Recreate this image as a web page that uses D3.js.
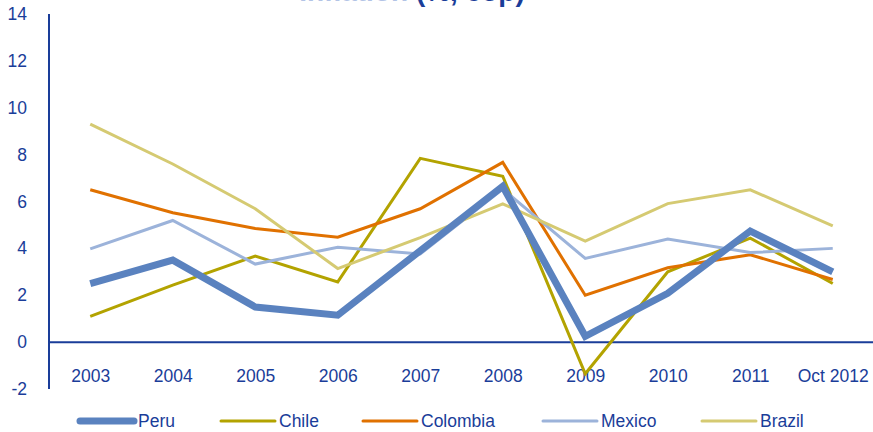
<!DOCTYPE html>
<html><head><meta charset="utf-8">
<script src="https://cdn.jsdelivr.net/npm/d3@7"></script>
<style>html,body{margin:0;padding:0;background:#fff;}svg{display:block;font-family:"Liberation Sans",Arial,sans-serif;}</style>
</head><body>
<svg id="chart" width="873" height="432"></svg>
<script>
const categories = ["2003","2004","2005","2006","2007","2008","2009","2010","2011","Oct 2012"];
const yTicks = [-2,0,2,4,6,8,10,12,14];
const seriesNames = ["Peru","Chile","Colombia","Mexico","Brazil"];
const peru     = [2.5, 3.5, 1.5, 1.15, 3.9, 6.65, 0.25, 2.08, 4.74, 3.0];
const chile    = [1.1, 2.43, 3.67, 2.57, 7.84, 7.08, -1.35, 3.0, 4.44, 2.5];
const colombia = [6.5, 5.52, 4.85, 4.48, 5.69, 7.67, 2.0, 3.17, 3.73, 2.67];
const mexico   = [3.98, 5.19, 3.33, 4.05, 3.76, 6.53, 3.57, 4.4, 3.82, 4.0];
const brazil   = [9.3, 7.6, 5.69, 3.14, 4.46, 5.9, 4.31, 5.91, 6.5, 4.96];

const colors = {Peru:"#5a82bf", Chile:"#b3a300", Colombia:"#e07100", Mexico:"#9cb3da", Brazil:"#d5ca72"};
const widths = {Peru:7, Chile:3, Colombia:3, Mexico:3, Brazil:3};
const dataMap = {Peru:peru, Chile:chile, Colombia:colombia, Mexico:mexico, Brazil:brazil};
const textColor = "#1a3d99";

const svg = d3.select("#chart");
const x = d3.scalePoint().domain(categories).range([49, 874]).padding(0.5);
const y = d3.scaleLinear().domain([-2, 14]).range([389, 14]);

// title (mostly cut off at top, as in the reference)
const title = svg.append("text").attr("x", 412).attr("y", 0.5).attr("text-anchor","middle")
  .attr("font-size", 28).attr("font-weight","bold");
title.append("tspan").attr("fill","#b3c4e6").text("Inflation ");
title.append("tspan").attr("fill", textColor).text("(%, eop)");

// y axis
const yAxis = svg.append("g").attr("transform","translate(49,0)")
  .call(d3.axisLeft(y).tickValues(yTicks).tickSize(0).tickPadding(22).tickFormat(d => String(d)));
yAxis.select(".domain").attr("stroke", textColor).attr("stroke-width",2).attr("d", `M0,${y(14)}V${y(-2)}`);
yAxis.selectAll("text").attr("fill", textColor).attr("font-size", 17.5).attr("font-family","Liberation Sans, Arial, sans-serif");

// x axis at zero
const xAxis = svg.append("g").attr("transform",`translate(0,${y(0)})`)
  .call(d3.axisBottom(x).tickSize(0).tickPadding(27));
xAxis.select(".domain").attr("stroke", textColor).attr("stroke-width",2).attr("d", `M49,0H873`);
xAxis.selectAll("text").attr("fill", textColor).attr("font-size", 17.5).attr("font-family","Liberation Sans, Arial, sans-serif");

// lines
const line = d3.line().x((d,i)=>x(categories[i])).y(d=>y(d));
const drawOrder = ["Chile","Colombia","Mexico","Brazil","Peru"];
drawOrder.forEach(name=>{
  svg.append("path").datum(dataMap[name]).attr("d", line)
    .attr("fill","none").attr("stroke", colors[name]).attr("stroke-width", widths[name])
    .attr("stroke-linejoin","miter").attr("stroke-linecap","butt");
});

// legend
const legendX = [80, 221, 363, 543, 702];
const lg = svg.append("g");
seriesNames.forEach((name,i)=>{
  const g = lg.append("g").attr("transform",`translate(${legendX[i]},421)`);
  g.append("line").attr("x1",0).attr("x2",54).attr("y1",0).attr("y2",0)
    .attr("stroke", colors[name]).attr("stroke-width", widths[name])
    .attr("stroke-linecap","round");
  g.append("text").attr("x",58).attr("y",0).attr("dy","0.35em")
    .attr("fill", textColor).attr("font-size",17.5).text(name);
});
</script>
</body></html>
